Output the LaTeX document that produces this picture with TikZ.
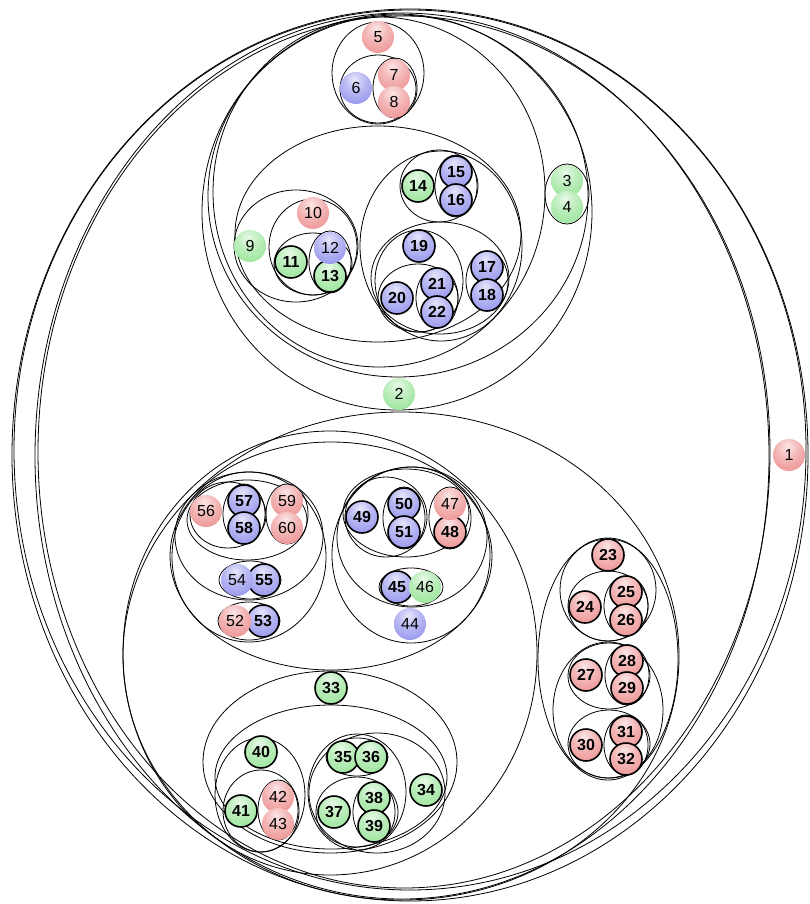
\documentclass[tikz,border=0pt]{standalone}
\usepackage{fontspec}
\setmainfont{Liberation Sans}
\usetikzlibrary{shapes.geometric}
\definecolor{rc}{RGB}{236,138,138}
\definecolor{bc}{RGB}{140,140,236}
\definecolor{gc}{RGB}{146,226,146}
\pgfdeclareradialshading{redball}{\pgfpoint{-3bp}{14bp}}{color(0bp)=(rc!22!white); color(18bp)=(rc!62!white); color(42bp)=(rc); color(58bp)=(rc!85!black); color(100bp)=(rc!85!black)}
\pgfdeclareradialshading{blueball}{\pgfpoint{-3bp}{14bp}}{color(0bp)=(bc!22!white); color(18bp)=(bc!62!white); color(42bp)=(bc); color(58bp)=(bc!85!black); color(100bp)=(bc!85!black)}
\pgfdeclareradialshading{greenball}{\pgfpoint{-3bp}{14bp}}{color(0bp)=(gc!22!white); color(18bp)=(gc!62!white); color(42bp)=(gc); color(58bp)=(gc!85!black); color(100bp)=(gc!85!black)}
\tikzset{
  grp/.style={draw=black, ellipse, inner sep=0pt, line width=0.8pt},
  ballnode/.style={circle, minimum size=32pt, inner sep=0pt, font=\fontsize{16}{16}\selectfont},
  bd/.style={draw=black, line width=1.6pt, font=\fontsize{16}{16}\selectfont\bfseries},
  nb/.style={},
  R/.style={shading=redball},
  B/.style={shading=blueball},
  G/.style={shading=greenball},
}
\newcommand\Grp[5]{\node[grp, minimum width={2*#4pt}, minimum height={2*#5pt}] (#1) at (#2,#3) {};}
\newcommand\Ball[5]{\node[ballnode,#4,#5] (n#1) at (#2,#3) {#1};}
\begin{document}
\begin{tikzpicture}[x=1pt,y=-1pt]
\useasboundingbox (0,0) rectangle (809,904);
\fill[white] (0,0) rectangle (809,904);
% ---- containers ----
\Grp{gA}{410}{455}{398}{446}
\Grp{gAtwo}{410}{450}{396}{440}
\Grp{gB}{402}{456}{367}{443}
\Grp{gBtwo}{404}{452}{366}{436}
\Grp{gU3}{397}{212}{195}{198}
\Grp{gU2}{398}{196}{190}{181}
\Grp{gU1}{379}{192}{166}{175}
\Grp{gThree}{567}{194}{22}{30}
\Grp{gFive}{378}{73}{46}{51}
\Grp{gSix}{378}{89}{38}{34}
\Grp{gSeven}{395}{88}{22}{30}
\Grp{gE}{378}{234}{143}{108}
\Grp{gNine}{296}{246}{62}{56}
\Grp{gTen}{313}{247}{44}{48}
\Grp{gEleven}{313}{264}{39}{31}
\Grp{gTwelve}{330}{262}{21}{31}
\Grp{gFourteen}{441}{246}{81}{95}
\Grp{gFourteenA}{439}{186}{39}{36}
\Grp{gFifteen}{456}{186}{21}{31}
\Grp{gSeventeen}{440}{278}{69}{56}
\Grp{gNineteen}{419}{281}{44}{51}
\Grp{gTwenty}{418}{298}{40}{34}
\Grp{gTwentyOne}{437}{298}{21}{30}
\Grp{gSevenEighteen}{487}{281}{21}{30}
% lower
\Grp{gL}{401}{656}{278}{244}
\Grp{gLone}{330}{653}{207}{222}
\Grp{gG}{608}{659}{70}{121}
\Grp{gTwThree}{608}{590}{48}{51}
\Grp{gTwFour}{608}{606}{40}{35}
\Grp{gTwFive}{626}{606}{22}{30}
\Grp{gTwSeven}{608}{710}{55}{68}
\Grp{gTwSevenA}{609}{676}{41}{33}
\Grp{gTwEight}{627}{675}{22}{30}
\Grp{gThirty}{609}{744}{41}{34}
\Grp{gThOne}{626}{745}{22}{30}
\Grp{gFFour}{331}{556}{161}{114}
\Grp{gLeft}{249}{557}{77}{85}
\Grp{gFiFour}{249}{536}{74}{64}
\Grp{gFiSix}{247}{520}{60}{40}
\Grp{gFiSixA}{228}{515}{38}{33}
\Grp{gFiSeven}{244}{514}{21}{30}
\Grp{gFiNine}{287}{514}{21}{30}
\Grp{gFiFourFive}{250}{580}{31}{19}
\Grp{gFiTwoThree}{249}{621}{31}{19}
\Grp{gRight}{411}{555}{79}{88}
\Grp{gFFive}{412}{537}{75}{70}
\Grp{gFSeven}{406}{513}{63}{44}
\Grp{gFNine}{386}{517}{41}{40}
\Grp{gFifty}{404}{518}{21}{31}
\Grp{gFSevenEight}{450}{518}{21}{31}
\Grp{gFFiveSix}{411}{587}{32}{19}
\Grp{gThThree}{330}{762}{127}{91}
\Grp{gThFour}{331}{777}{116}{72}
\Grp{gForty}{260}{795}{45}{57}
\Grp{gFOne}{261}{811}{38}{41}
\Grp{gFTwo}{278}{810}{20}{30}
\Grp{gThFourB}{377}{793}{68}{60}
\Grp{gThFive}{357}{792}{49}{58}
\Grp{gThFiveSix}{357}{757}{31}{19}
\Grp{gThSeven}{357}{812}{41}{35}
\Grp{gThEight}{374}{812}{21}{30}
% ---- bordered balls ----
\Ball{11}{291}{262}{G}{bd}
\Ball{13}{330}{276}{G}{bd}
\Ball{14}{418}{186}{G}{bd}
\Ball{15}{456}{172}{B}{bd}
\Ball{16}{456}{200}{B}{bd}
\Ball{17}{487}{267}{B}{bd}
\Ball{18}{487}{295}{B}{bd}
\Ball{19}{419}{246}{B}{bd}
\Ball{20}{397}{298}{B}{bd}
\Ball{21}{437}{284}{B}{bd}
\Ball{22}{437}{312}{B}{bd}
\Ball{23}{608}{555}{R}{bd}
\Ball{24}{585}{607}{R}{bd}
\Ball{25}{626}{592}{R}{bd}
\Ball{26}{626}{620}{R}{bd}
\Ball{27}{586}{675}{R}{bd}
\Ball{28}{627}{661}{R}{bd}
\Ball{29}{627}{688}{R}{bd}
\Ball{30}{586}{745}{R}{bd}
\Ball{31}{626}{732}{R}{bd}
\Ball{32}{626}{759}{R}{bd}
\Ball{33}{331}{688}{G}{bd}
\Ball{34}{426}{790}{G}{bd}
\Ball{35}{343}{757}{G}{bd}
\Ball{36}{371}{757}{G}{bd}
\Ball{37}{334}{812}{G}{bd}
\Ball{38}{374}{798}{G}{bd}
\Ball{39}{374}{826}{G}{bd}
\Ball{40}{261}{752}{G}{bd}
\Ball{41}{241}{811}{G}{bd}
\Ball{45}{397}{587}{B}{bd}
\Ball{48}{450}{532}{R}{bd}
\Ball{49}{362}{517}{B}{bd}
\Ball{50}{404}{504}{B}{bd}
\Ball{51}{404}{532}{B}{bd}
\Ball{53}{263}{621}{B}{bd}
\Ball{55}{264}{580}{B}{bd}
\Ball{57}{244}{501}{B}{bd}
\Ball{58}{244}{528}{B}{bd}
% ---- plain balls ----
\Ball{1}{789}{455}{R}{nb}
\Ball{2}{399}{394}{G}{nb}
\Ball{3}{567}{181}{G}{nb}
\Ball{4}{567}{207}{G}{nb}
\Ball{5}{378}{37}{R}{nb}
\Ball{6}{356}{88}{B}{nb}
\Ball{7}{394}{75}{R}{nb}
\Ball{8}{394}{102}{R}{nb}
\Ball{9}{250}{246}{G}{nb}
\Ball{10}{313}{213}{R}{nb}
\Ball{12}{330}{248}{B}{nb}
\Ball{42}{278}{797}{R}{nb}
\Ball{43}{278}{824}{R}{nb}
\Ball{44}{410}{624}{B}{nb}
\Ball{46}{425}{587}{G}{nb}
\Ball{47}{450}{504}{R}{nb}
\Ball{52}{235}{621}{R}{nb}
\Ball{54}{237}{580}{B}{nb}
\Ball{56}{206}{511}{R}{nb}
\Ball{59}{287}{501}{R}{nb}
\Ball{60}{287}{528}{R}{nb}
\end{tikzpicture}
\end{document}
